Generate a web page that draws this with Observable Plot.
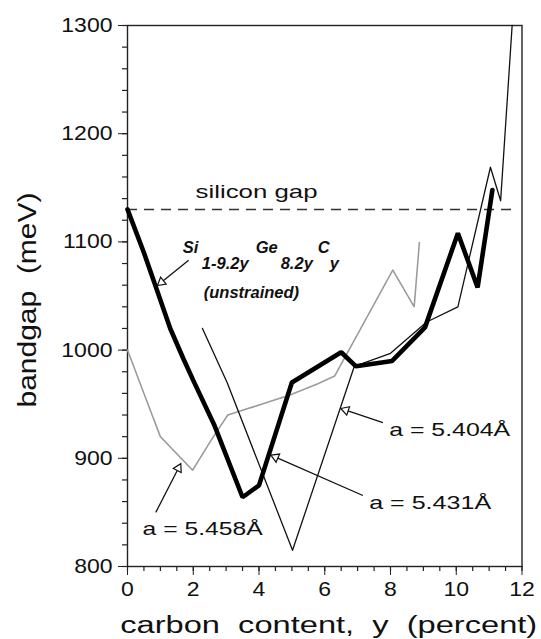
<!DOCTYPE html>
<html><head><meta charset="utf-8">
<script src="https://cdn.jsdelivr.net/npm/d3@7"></script>
<script src="https://cdn.jsdelivr.net/npm/@observablehq/plot@0.6"></script>
<style>
body{margin:0;background:#fff}
svg{font-family:"Liberation Sans",Arial,Helvetica,sans-serif}
</style>
</head><body><div id="chart"></div>
<script>
// ---- data ----
const carbonThick = [0, 0.5, 0.9, 1.3, 1.7, 2.0, 2.65, 3.5, 4.0, 5.0, 6.5, 6.95, 8.05, 9.05, 10.05, 10.65, 11.1];
const gapThick    = [1130, 1090, 1055, 1020, 992, 972, 930, 864, 875, 970, 998, 985, 990, 1021, 1108, 1058, 1148];
const carbonThin  = [2.28, 3.03, 5.02, 6.9, 8.0, 9.1, 10.05, 11.04, 11.35, 11.7];
const gapThin     = [1020, 970, 815, 985, 997, 1026, 1040, 1169, 1138, 1300];
const carbonDot   = [0, 1.0, 1.6, 1.98, 2.55, 3.05, 4.9, 5.8, 6.3, 8.07, 8.72, 8.88];
const gapDot      = [1000, 920, 901, 889, 917, 940, 958, 969, 976, 1074, 1040, 1100];
const siliconGap  = 1130;
const siliconGapEnd = 11.72;
const xMajorTicks = [0, 2, 4, 6, 8, 10, 12];
const yMajorTicks = [800, 900, 1000, 1100, 1200, 1300];
const xMinorTicks = d3.range(0, 12.01, 0.5);
const yMinorTicks = d3.range(800, 1300.1, 20);

// annotations (data coordinates)
const labelText = ["a = 5.404Å", "a = 5.431Å", "a = 5.458Å", "silicon gap"];
const labelX    = [7.96, 7.35, 0.46, 2.07];
const labelY    = [921, 853.6, 829, 1141];
const arrowTailX = [7.77, 7.16, 0.86, 1.86];
const arrowTailY = [933, 865.6, 850, 1083];
const arrowTipX  = [6.49, 4.36, 1.62, 0.91];
const arrowTipY  = [946, 903, 895, 1059.7];
const formulaText = ["Si", "1-9.2y", "Ge", "8.2y", "C", "y", "(unstrained)"];
const formulaX    = [1.68, 2.26, 3.90, 4.66, 5.79, 6.15, 2.32];
const formulaY    = [1090, 1075.4, 1089.3, 1075.4, 1090.2, 1075.4, 1048.6];

// ---- layout ----
const W = 541, H = 639, ML = 127, MR = 19.5, MT = 25, MB = 73;
const kx = (W - ML - MR) / 12, ky = (H - MT - MB) / 500;
const minorLen = 5;
const headBack = 5.1;
const arrows = arrowTipX.map((tx, i) => {
  const dx = (tx - arrowTailX[i]) * kx, dy = -(arrowTipY[i] - arrowTailY[i]) * ky;
  const L = Math.hypot(dx, dy);
  return {
    x1: arrowTailX[i], y1: arrowTailY[i], x2: tx, y2: arrowTipY[i],
    hx: tx - headBack * dx / L / kx, hy: arrowTipY[i] + headBack * dy / L / ky,
    rot: Math.atan2(dx, -dy) * 180 / Math.PI
  };
});
const labels = labelText.map((t, i) => ({t, x: labelX[i], y: labelY[i]}));
const formula = formulaText.map((t, i) => ({t, x: formulaX[i], y: formulaY[i]}));

const plot = Plot.plot({
  width: W, height: H, marginLeft: ML, marginRight: MR, marginTop: MT, marginBottom: MB,
  style: {fontFamily: "'Liberation Sans', Arial, sans-serif", fontSize: "20px", color: "#111", background: "white", overflow: "visible"},
  x: {domain: [0, 12]},
  y: {domain: [800, 1300]},
  marks: [
    // minor ticks (outward, below / left of the frame)
    Plot.ruleX(xMinorTicks, {x: d => d, y1: 800, y2: 800 - minorLen / ky, stroke: "#222", strokeWidth: 1.2}),
    Plot.ruleY(yMinorTicks, {y: d => d, x1: 0, x2: -minorLen / kx, stroke: "#222", strokeWidth: 1.2}),
    Plot.axisX({ticks: xMajorTicks, tickSize: 9, tickPadding: 6, label: null, fontSize: 20, stroke: "#222", tickFormat: d => String(d)}),
    Plot.axisY({ticks: yMajorTicks, tickSize: 9, tickPadding: 6, label: null, fontSize: 20, stroke: "#222", tickFormat: d => String(d)}),
    Plot.frame({stroke: "#222", strokeWidth: 1.4}),
    Plot.ruleY([siliconGap], {x1: 0, x2: siliconGapEnd, stroke: "#333", strokeWidth: 1.6, strokeDasharray: "10,7"}),
    Plot.line(carbonDot, {x: carbonDot, y: gapDot, stroke: "#9a9a9a", strokeWidth: 1.6, strokeDasharray: "1.6,0.8"}),
    Plot.line(carbonThin, {x: carbonThin, y: gapThin, stroke: "#111", strokeWidth: 1.3}),
    Plot.line(carbonThick, {x: carbonThick, y: gapThick, stroke: "#000", strokeWidth: 4.6, strokeLinejoin: "miter"}),
    Plot.link(arrows, {x1: "x1", y1: "y1", x2: "hx", y2: "hy", stroke: "#111", strokeWidth: 1.3}),
    Plot.dot(arrows, {x: "hx", y: "hy", symbol: "triangle", r: 3.3, rotate: "rot", fill: "white", stroke: "#111", strokeWidth: 1.2}),
    Plot.text(labels, {x: "x", y: "y", text: "t", textAnchor: "start", lineAnchor: "bottom", fontSize: 19, fill: "#111"}),
    Plot.text(formula, {x: "x", y: "y", text: "t", textAnchor: "start", lineAnchor: "bottom", fontSize: 16.5, fontStyle: "italic", fontWeight: "bold", fill: "#111"}),
    Plot.text(["carbon  content,  y  (percent)"], {frameAnchor: "bottom", textAnchor: "middle", dx: 4, dy: 66, lineAnchor: "bottom", fontSize: 23, fill: "#111"}),
    Plot.text(["bandgap  (meV)"], {frameAnchor: "left", textAnchor: "middle", dx: -92, dy: 4, rotate: -90, lineAnchor: "bottom", fontSize: 25, fill: "#111"})
  ]
});
document.getElementById("chart").appendChild(plot);

// horizontal stretch of the lettering, like the reference's wide glyphs
const targetWidths = {
  "a = 5.404Å": 121, "a = 5.431Å": 122, "a = 5.458Å": 120, "silicon gap": 122,
  "carbon  content,  y  (percent)": 417, "bandgap  (meV)": 215
};
plot.querySelectorAll("text").forEach(t => {
  const s = t.textContent;
  if (s.includes("  ")) t.style.whiteSpace = "pre";
  const L = t.getComputedTextLength();
  if (!L) return;
  let target = null;
  if (targetWidths[s] != null) target = targetWidths[s];
  else if (t.closest('g[aria-label="x-axis tick label"]') || t.closest('g[aria-label="y-axis tick label"]')) target = L * 1.15;
  if (target) {
    t.setAttribute("textLength", target);
    t.setAttribute("lengthAdjust", "spacingAndGlyphs");
  }
});
</script>
</body></html>
